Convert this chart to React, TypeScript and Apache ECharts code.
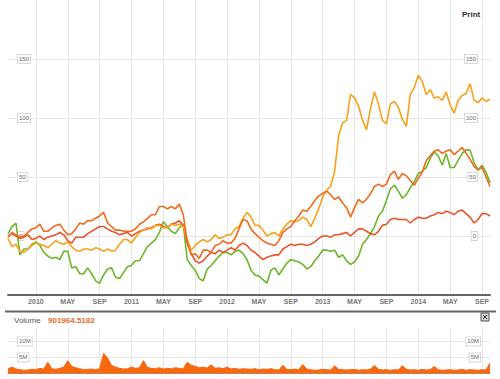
import { useEffect, useRef } from 'react';
import * as echarts from 'echarts';

// Time axis: months since Jan 2010, sampled every half month from mid-Sep 2009
const FIRST_MONTH = -3.5;
const MONTH_STEP = 0.5;
const TICK_MONTHS = [0, 4, 8, 12, 16, 20, 24, 28, 32, 36, 40, 44, 48, 52, 56];
const TICK_LABELS = ['2010', 'MAY', 'SEP', '2011', 'MAY', 'SEP', '2012', 'MAY', 'SEP', '2013', 'MAY', 'SEP', '2014', 'MAY', 'SEP'];
const PRICE_TICKS = [0, 50, 100, 150];
const VOLUME_TICKS = [5, 10];
const VOLUME_VALUE = '901964.5182';

// % change series
const greenSeries = [
  2, 8, 11, -16, -11, -11, -7, -5, -8, -14, -17, -19, -18, -20, -13, -13, -27, -26, -32, -32,
  -27, -32, -38, -40, -33, -28, -27, -35, -36, -31, -26, -25, -21, -21, -15, -9, -6, -3, 3, 12,
  8, 4, 2, 7, 10, -20, -25, -29, -36, -38, -28, -25, -21, -17, -14, -14, -16, -13, -12, -15,
  -20, -29, -33, -34, -37, -40, -29, -27, -33, -28, -23, -20, -21, -22, -24, -28, -26, -21, -17, -12,
  -12, -13, -12, -18, -16, -21, -24, -22, -17, -7, -3, 2, 8, 17, 21, 30, 40, 43, 38, 32,
  35, 41, 46, 53, 55, 58, 66, 71, 68, 60, 70, 58, 58, 64, 70, 73, 73, 62, 56, 60,
  54, 45,
];
const yellowSeries = [
  -2, -9, -7, -13, -14, -11, -8, -6, -7, -8, -10, -7, -4, -6, -7, -5, -9, -12, -13, -11,
  -11, -12, -10, -11, -13, -11, -13, -12, -7, -3, -3, -6, -1, 3, 5, 7, 6, 9, 9, 7,
  7, 10, 9, 10, 8, -3, -12, -8, -5, -3, -5, -3, 1, -2, -1, 1, 1, 6, 8, 15,
  20, 16, 9, 9, 5, 0, 2, 3, 0, 6, 10, 13, 12, 13, 16, 14, 8, 15, 23, 33,
  39, 42, 55, 85, 96, 98, 120, 117, 110, 98, 90, 108, 122, 112, 98, 95, 112, 114, 109, 99,
  93, 120, 126, 136, 131, 120, 124, 117, 118, 115, 122, 111, 104, 115, 119, 121, 129, 115, 113, 117,
  114, 116,
];
const orangeSeries = [
  -1, 3, 1, -1, 0, 3, 6, 7, 10, 4, 4, 7, 9, 10, 5, 1, 2, 6, 11, 10,
  13, 13, 15, 17, 20, 11, 8, 5, 5, 4, 4, 4, 6, 10, 12, 15, 18, 18, 25, 25,
  23, 25, 23, 27, 18, -5, -16, -15, -19, -12, -12, -14, -8, -7, -4, -6, -6, -2, 6, 14,
  13, 6, 2, -1, -4, -6, -7, -8, -4, 3, 6, 8, 13, 17, 22, 21, 25, 30, 34, 36,
  38, 35, 31, 33, 28, 24, 16, 24, 31, 28, 31, 36, 42, 44, 42, 44, 52, 55, 48, 53,
  51, 47, 43, 49, 54, 64, 68, 72, 73, 70, 72, 73, 69, 72, 75, 70, 65, 59, 56, 58,
  50, 42,
];
const redSeries = [
  0, 2, 0, -2, -1, 1, -3, -2, 0, -3, -1, 0, 1, 3, 1, -4, -6, -1, -1, -1,
  2, 4, 6, 8, 8, 6, 4, 3, 1, 2, 3, 0, 2, 4, 5, 6, 7, 9, 10, 8,
  7, 10, 11, 13, 9, -6, -15, -21, -23, -21, -17, -14, -15, -12, -14, -12, -10, -12, -8, -6,
  -8, -12, -14, -17, -20, -18, -17, -16, -16, -11, -9, -7, -8, -7, -7, -8, -7, -5, -2, 0,
  0, -1, 1, 1, 2, 3, 0, 3, 6, 6, 4, 2, 1, 4, 9, 10, 14, 15, 14, 14,
  14, 11, 14, 16, 15, 15, 17, 18, 20, 19, 21, 20, 18, 21, 22, 19, 16, 11, 14, 19,
  19, 17,
];
// volume in millions
const volumeSeries = [
  1.5, 2.0, 1.4, 1.2, 1.0, 1.1, 1.3, 1.2, 1.6, 1.4, 3.5, 1.5, 1.3, 1.6, 2.0, 4.0, 2.2, 1.8, 1.5, 1.2,
  1.3, 1.4, 1.2, 1.5, 6.3, 4.8, 2.5, 2.0, 1.6, 1.4, 1.5, 2.0, 1.6, 1.8, 4.0, 1.9, 1.6, 1.5, 1.8, 1.4,
  1.6, 1.5, 1.8, 1.6, 1.5, 3.5, 2.6, 2.2, 1.8, 2.0, 1.7, 2.7, 1.6, 1.8, 1.5, 2.0, 1.4, 1.6, 1.3, 1.5,
  1.4, 1.3, 1.5, 1.2, 1.4, 1.3, 1.5, 1.2, 1.1, 2.6, 1.3, 1.2, 1.4, 1.2, 2.8, 1.4, 1.2, 1.0, 1.1, 1.3,
  1.2, 1.1, 2.4, 1.3, 1.2, 1.1, 1.2, 1.3, 1.0, 1.2, 1.1, 1.4, 2.5, 1.3, 1.1, 1.2, 1.0, 1.2, 1.1, 2.4,
  1.3, 1.1, 1.2, 1.0, 1.3, 1.1, 1.2, 2.2, 1.2, 1.0, 1.1, 1.2, 1.0, 1.1, 1.3, 1.0, 1.2, 1.1, 1.0, 1.2,
  1.1, 3.3,
];

const COLORS = {
  green: '#6db52a',
  yellow: '#f9a11b',
  orange: '#f26a1f',
  red: '#e8552a',
  volume: '#f7680f',
};

const FONT = "'Liberation Sans', Arial, sans-serif";
const GRID_COLOR = '#e6e6e6';

const toPoints = (arr: number[]) => arr.map((v, i) => [FIRST_MONTH + MONTH_STEP * i, v]);

const boxLabel = (right: boolean, margin: number) => ({
  inside: true,
  margin,
  fontSize: 6,
  color: '#666',
  fontFamily: FONT,
  backgroundColor: '#fff',
  borderColor: '#d8d8d8',
  borderWidth: 1,
  padding: [1, 1, 1, 1],
  align: right ? 'right' : 'left',
});

export default function App() {
  const ref = useRef<HTMLDivElement>(null);
  useEffect(() => {
    if (!ref.current) return;
    const chart = echarts.init(ref.current, undefined, { renderer: 'svg' });
    const priceMax = 200;
    const priceMin = -50;
    chart.setOption({
      animation: false,
      backgroundColor: '#fff',
      grid: [
        { left: 8, right: 10, top: 0, height: 295 },
        { left: 8, right: 10, top: 328, height: 45.5 },
      ],
      xAxis: [
        {
          gridIndex: 0,
          type: 'value',
          min: FIRST_MONTH,
          max: 57,
          axisLine: { show: true, onZero: false, lineStyle: { color: '#666', width: 2 } },
          axisTick: { show: false, customValues: TICK_MONTHS },
          axisLabel: {
            customValues: TICK_MONTHS,
            formatter: (v: number) => TICK_LABELS[TICK_MONTHS.indexOf(v)] ?? '',
            fontSize: 7,
            fontWeight: 'bold',
            color: '#777',
            fontFamily: FONT,
            margin: 3,
          },
          splitLine: { show: true, lineStyle: { color: GRID_COLOR, width: 1 } },
        },
        {
          gridIndex: 1,
          type: 'value',
          min: FIRST_MONTH,
          max: 57,
          axisLine: { show: true, onZero: false, lineStyle: { color: '#999', width: 1 } },
          axisTick: { show: false, customValues: TICK_MONTHS },
          axisLabel: { show: false },
          splitLine: { show: true, lineStyle: { color: GRID_COLOR, width: 1 } },
        },
      ],
      yAxis: [
        {
          gridIndex: 0,
          type: 'value',
          min: priceMin,
          max: priceMax,
          position: 'left',
          axisLine: { show: false },
          axisTick: { show: false, customValues: [-50, 0, 50, 100, 150] },
          axisLabel: { ...boxLabel(false, 10), customValues: PRICE_TICKS },
          splitLine: { show: true, lineStyle: { color: GRID_COLOR, width: 1 } },
        },
        {
          gridIndex: 0,
          type: 'value',
          min: priceMin,
          max: priceMax,
          position: 'right',
          axisLine: { show: false },
          axisTick: { show: false, customValues: PRICE_TICKS },
          axisLabel: { ...boxLabel(true, 13), customValues: PRICE_TICKS },
          splitLine: { show: false },
        },
        {
          gridIndex: 1,
          type: 'value',
          min: 0,
          max: 14.2,
          position: 'left',
          axisLine: { show: false },
          axisTick: { show: false, customValues: [0, 5, 10] },
          axisLabel: { ...boxLabel(false, 10), customValues: VOLUME_TICKS, formatter: (v: number) => v + 'M' },
          splitLine: { show: true, lineStyle: { color: GRID_COLOR, width: 1 } },
        },
        {
          gridIndex: 1,
          type: 'value',
          min: 0,
          max: 14.2,
          position: 'right',
          axisLine: { show: false },
          axisTick: { show: false, customValues: VOLUME_TICKS },
          axisLabel: { ...boxLabel(true, 10), customValues: VOLUME_TICKS, formatter: (v: number) => v + 'M' },
          splitLine: { show: false },
        },
      ],
      series: [
        {
          type: 'line', xAxisIndex: 0, yAxisIndex: 0, showSymbol: false, data: toPoints(greenSeries),
          lineStyle: { color: COLORS.green, width: 1.6 }, itemStyle: { color: COLORS.green },
        },
        {
          type: 'line', xAxisIndex: 0, yAxisIndex: 0, showSymbol: false, data: toPoints(redSeries),
          lineStyle: { color: COLORS.red, width: 1.6 }, itemStyle: { color: COLORS.red },
        },
        {
          type: 'line', xAxisIndex: 0, yAxisIndex: 0, showSymbol: false, data: toPoints(yellowSeries),
          lineStyle: { color: COLORS.yellow, width: 1.6 }, itemStyle: { color: COLORS.yellow },
        },
        {
          type: 'line', xAxisIndex: 0, yAxisIndex: 0, showSymbol: false, data: toPoints(orangeSeries),
          lineStyle: { color: COLORS.orange, width: 1.6 }, itemStyle: { color: COLORS.orange },
        },
        {
          type: 'line', xAxisIndex: 1, yAxisIndex: 2, showSymbol: false, data: toPoints(volumeSeries),
          lineStyle: { color: COLORS.volume, width: 1 }, itemStyle: { color: COLORS.volume },
          areaStyle: { color: COLORS.volume, opacity: 1 },
        },
      ],
      graphic: [
        {
          type: 'text', left: 462, top: 10,
          style: { text: 'Print', fill: '#333', font: `bold 8px ${FONT}` },
        },
        {
          type: 'line', shape: { x1: 5, y1: 311.5, x2: 496, y2: 311.5 },
          style: { stroke: '#666', lineWidth: 2 },
        },
        {
          type: 'text', left: 14, top: 316,
          style: { text: 'Volume', fill: '#555', font: `8px ${FONT}` },
        },
        {
          type: 'text', left: 48, top: 316,
          style: { text: VOLUME_VALUE, fill: '#f26a1f', font: `bold 8px ${FONT}` },
        },
        {
          type: 'rect', shape: { x: 481, y: 313, width: 8, height: 8 },
          style: { fill: '#d4d4d4', stroke: '#555', lineWidth: 1 },
        },
        {
          type: 'line', shape: { x1: 483, y1: 315, x2: 487, y2: 319 },
          style: { stroke: '#333', lineWidth: 1 },
        },
        {
          type: 'line', shape: { x1: 487, y1: 315, x2: 483, y2: 319 },
          style: { stroke: '#333', lineWidth: 1 },
        },
      ],
    });
    return () => chart.dispose();
  }, []);
  return (
    <div
      ref={ref}
      style={{ position: 'fixed', left: 0, top: 0, width: 500, height: 379, background: '#fff' }}
    />
  );
}
